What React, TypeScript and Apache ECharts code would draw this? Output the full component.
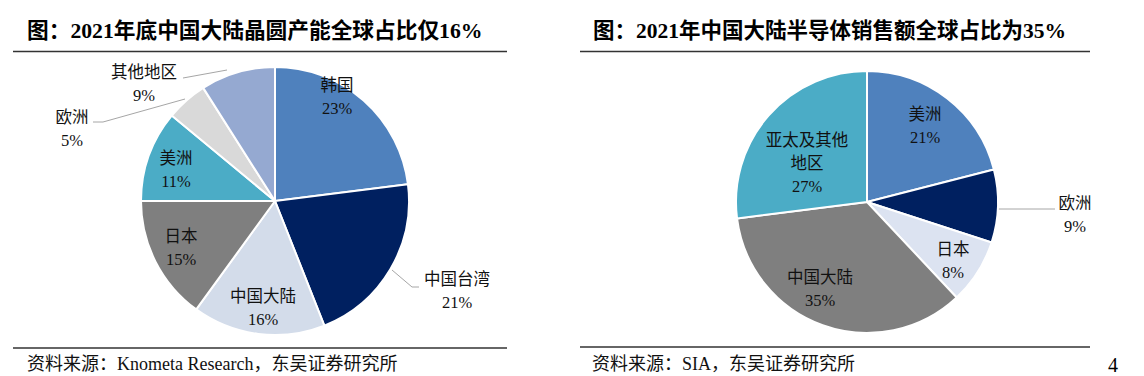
import React, { useEffect, useRef } from "react";
import * as echarts from "echarts";

const LEFT_TITLE = "图：2021年底中国大陆晶圆产能全球占比仅16%";
const RIGHT_TITLE = "图：2021年中国大陆半导体销售额全球占比为35%";
const LEFT_SOURCE = "资料来源：Knometa Research，东吴证券研究所";
const RIGHT_SOURCE = "资料来源：SIA，东吴证券研究所";
const PAGE_NO = "4";

const LEFT_NAMES = ["韩国", "中国台湾", "中国大陆", "日本", "美洲", "欧洲", "其他地区"];
const LEFT_VALUES = [23, 21, 16, 15, 11, 5, 9];
const RIGHT_NAMES = ["美洲", "欧洲", "日本", "中国大陆", "亚太及其他地区"];
const RIGHT_VALUES = [21, 9, 8, 35, 27];

const LEFT_COLORS = ["#4F81BD", "#002060", "#D3DCEA", "#7F7F7F", "#4BACC6", "#D9D9D9", "#95A9D1"];
const RIGHT_COLORS = ["#4F81BD", "#002060", "#DCE3F1", "#7F7F7F", "#4BACC6"];

// label placement (text block centres) and leader lines
const LEFT_LABEL_POS: number[][] = [
  [337, 97], [457, 291], [263, 308], [181, 248], [176, 170], [72, 129], [144, 84],
];
const LEFT_LEADERS: (number[][] | null)[] = [
  null,
  [[392, 270], [412, 287], [419, 287]],
  null, null, null,
  [[185, 99], [103, 122], [93, 122]],
  [[227, 70], [183, 78], [183, 78]],
];
const RIGHT_LABEL_POS: number[][] = [
  [925, 126], [1075, 215], [953, 261], [820, 289], [807, 163],
];
const RIGHT_LEADERS: (number[][] | null)[] = [
  null,
  [[998, 209], [1055, 209], [1055, 209]],
  null, null, null,
];

const SERIF = "'Liberation Serif', 'Noto Sans CJK SC', serif";

function fmtName(n: string) {
  return n.length > 5 ? n.slice(0, 5) + "\n" + n.slice(5) : n;
}

function buildSeries(
  names: string[], values: number[], colors: string[], leaders: (number[][] | null)[],
  pos: number[][], center: number[], radius: number
) {
  return {
    type: "pie",
    center,
    radius,
    startAngle: 90,
    clockwise: true,
    avoidLabelOverlap: false,
    silent: true,
    itemStyle: { borderColor: "#fff", borderWidth: 2 },
    label: {
      show: true,
      position: "inside",
      formatter: (p: any) => fmtName(p.name) + "\n" + p.value + "%",
      color: "#111",
      fontSize: 16.5,
      lineHeight: 23,
      fontFamily: SERIF,
      align: "center",
    },
    labelLine: { show: false },
    labelLayout: (p: any) => {
      const pt = pos[p.dataIndex];
      const res: any = { x: pt[0], y: pt[1], align: "center", verticalAlign: "middle" };
      const l = leaders[p.dataIndex];
      if (l) res.labelLinePoints = l;
      return res;
    },
    data: names.map((n, i) => {
      const item: any = { name: n, value: values[i], itemStyle: { color: colors[i] } };
      if (leaders[i]) {
        item.label = { position: "outside" };
        item.labelLine = { show: true, length: 10, length2: 10, lineStyle: { color: "#A6A6A6", width: 1 } };
      }
      return item;
    }),
  };
}

export default function App() {
  const ref = useRef<HTMLDivElement>(null);
  useEffect(() => {
    document.body.style.margin = "0";
    const chart = echarts.init(ref.current!, null, { renderer: "svg" });
    const titleStyle = { fontWeight: "bold", fontFamily: SERIF, fill: "#000" };
    const srcStyle = { fontSize: 18, fontFamily: SERIF, fill: "#111" };
    chart.setOption({
      animation: false,
      backgroundColor: "#fff",
      graphic: [
        { type: "text", left: 27, top: 20, style: { text: LEFT_TITLE, fontSize: 21.7, ...titleStyle } },
        { type: "text", left: 593, top: 20, style: { text: RIGHT_TITLE, fontSize: 21.5, ...titleStyle } },
        { type: "line", shape: { x1: 13, y1: 51.5, x2: 507, y2: 51.5 }, style: { stroke: "#333", lineWidth: 1.5 } },
        { type: "line", shape: { x1: 580, y1: 51.5, x2: 1090, y2: 51.5 }, style: { stroke: "#333", lineWidth: 1.5 } },
        { type: "line", shape: { x1: 13, y1: 348, x2: 507, y2: 348 }, style: { stroke: "#333", lineWidth: 1.5 } },
        { type: "line", shape: { x1: 580, y1: 347, x2: 1090, y2: 347 }, style: { stroke: "#333", lineWidth: 1.5 } },
        { type: "text", left: 27, top: 355, style: { text: LEFT_SOURCE, ...srcStyle } },
        { type: "text", left: 592, top: 355, style: { text: RIGHT_SOURCE, ...srcStyle } },
        { type: "text", left: 1108, top: 355, style: { text: PAGE_NO, fontSize: 20, fontFamily: SERIF, fill: "#000" } },
      ],
      series: [
        buildSeries(LEFT_NAMES, LEFT_VALUES, LEFT_COLORS, LEFT_LEADERS, LEFT_LABEL_POS, [275, 201], 134),
        buildSeries(RIGHT_NAMES, RIGHT_VALUES, RIGHT_COLORS, RIGHT_LEADERS, RIGHT_LABEL_POS, [867, 202], 131),
      ],
    });
    return () => chart.dispose();
  }, []);
  return <div ref={ref} style={{ width: 1144, height: 376 }} />;
}
